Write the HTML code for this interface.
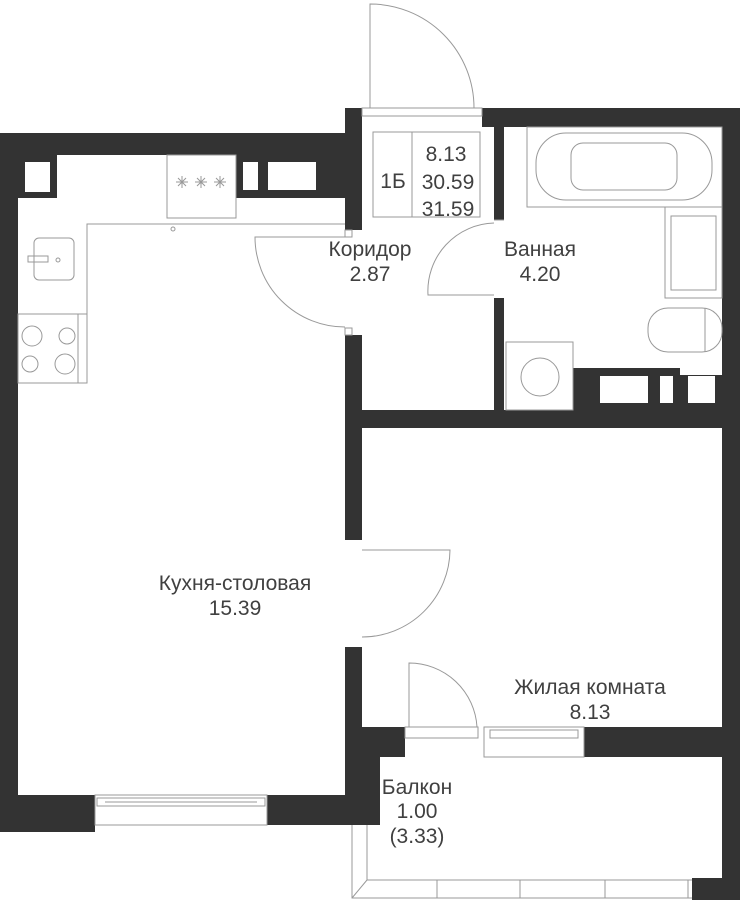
<!DOCTYPE html>
<html><head><meta charset="utf-8"><style>
html,body{margin:0;padding:0;background:#fff;}
svg{display:block}
text{font-family:"Liberation Sans","DejaVu Sans",sans-serif;fill:#404040;font-size:21px;text-anchor:middle}
</style></head><body>
<svg width="740" height="900" viewBox="0 0 740 900" xmlns="http://www.w3.org/2000/svg">
<g fill="#333">
<rect x="0" y="133" width="362" height="22"/>
<rect x="0" y="133" width="18" height="699"/>
<rect x="18" y="155" width="39" height="43"/>
<rect x="236" y="155" width="109" height="43"/>
<rect x="345" y="108" width="17" height="122"/>
<rect x="345" y="335" width="17" height="205"/>
<rect x="345" y="647" width="17" height="176"/>
<rect x="345" y="727" width="60" height="30"/>
<rect x="345" y="757" width="35" height="68"/>
<rect x="0" y="795" width="95" height="37"/>
<rect x="267" y="795" width="113" height="30"/>
<rect x="482" y="108" width="258" height="19"/>
<rect x="722" y="108" width="18" height="772"/>
<rect x="494" y="127" width="10" height="93"/>
<rect x="494" y="298" width="10" height="112"/>
<rect x="573" y="368" width="107" height="42"/>
<rect x="680" y="375" width="42" height="35"/>
<rect x="345" y="410" width="395" height="18"/>
<rect x="584" y="727" width="156" height="30"/>
<rect x="692" y="878" width="48" height="22"/>
</g>
<g fill="#fff">
<rect x="25" y="162" width="25" height="30"/>
<rect x="243" y="162" width="15" height="28"/>
<rect x="268" y="162" width="48" height="28"/>
<rect x="600" y="376" width="48" height="27"/>
<rect x="660" y="376" width="13" height="27"/>
<rect x="688" y="376" width="27" height="27"/>
</g>
<g fill="none" stroke="#999" stroke-width="1">
<rect x="362" y="108" width="120" height="8"/>
<path d="M370 108 V4 A104 104 0 0 1 474 108"/>
<rect x="373" y="132" width="107" height="85"/>
<line x1="412" y1="132" x2="412" y2="217"/>
<path d="M87 383 V224 H345"/>
<rect x="167" y="155" width="69" height="63"/>
<line x1="167" y1="218" x2="236" y2="218"/>
<circle cx="173" cy="229" r="2"/>
<path d="M176 182 h12 M182 176 v12 M178 178 l8 8 M186 178 l-8 8 M195 182 h12 M201 176 v12 M197 178 l8 8 M205 178 l-8 8 M214 182 h12 M220 176 v12 M216 178 l8 8 M224 178 l-8 8"/>
<rect x="34" y="238" width="40" height="42" rx="5"/>
<rect x="18" y="314" width="69" height="69"/>
<line x1="78" y1="314" x2="78" y2="383"/>
<circle cx="32" cy="336" r="10"/><circle cx="67" cy="336" r="8"/>
<circle cx="30" cy="364" r="8"/><circle cx="65" cy="364" r="10"/>
<circle cx="58" cy="260" r="2"/>
<path d="M28 256 h20 v6 h-20z"/>
<path d="M345 237 H255 A90 90 0 0 0 345 327"/>
<rect x="345" y="230" width="7" height="7"/><rect x="345" y="328" width="7" height="7"/>
<path d="M494 220 H504 M494 295 H428 A68 68 0 0 1 494 223"/>
<rect x="527" y="127" width="195" height="80"/>
<rect x="536" y="133" width="176" height="67" rx="30"/>
<rect x="571" y="143" width="106" height="47" rx="12"/>
<rect x="665" y="207" width="57" height="91"/>
<rect x="671" y="216" width="45" height="74"/>
<rect x="648" y="308" width="74" height="44" rx="20"/>
<line x1="705" y1="308" x2="705" y2="352"/>
<rect x="506" y="342" width="67" height="68"/>
<circle cx="540" cy="377" r="19"/>
<path d="M362 550 H450 A88 88 0 0 1 362 637"/>
<rect x="95" y="795" width="172" height="30"/>
<rect x="97" y="798" width="168" height="8"/>
<line x1="105" y1="802" x2="257" y2="802"/>
<rect x="405" y="727" width="73" height="11"/>
<path d="M409 727 V663 A68 68 0 0 1 477 727"/>
<rect x="484" y="727" width="100" height="30"/>
<rect x="490" y="730" width="88" height="8"/>
<path d="M352 825 V898 H692 M367 825 V880 H692 M352 898 L367 880"/>
<path d="M437 880 V898 M520 880 V898 M605 880 V898 M688 880 V898"/>
</g>
<text x="393" y="188" font-size="24">1Б</text>
<text x="446" y="161" font-size="24">8.13</text>
<text x="448" y="189" font-size="24">30.59</text>
<text x="448" y="216" font-size="24">31.59</text>
<text x="370" y="256">Коридор</text>
<text x="370" y="281">2.87</text>
<text x="540" y="256">Ванная</text>
<text x="540" y="281">4.20</text>
<text x="235" y="590">Кухня-столовая</text>
<text x="235" y="615">15.39</text>
<text x="590" y="694">Жилая комната</text>
<text x="590" y="719">8.13</text>
<text x="417" y="794">Балкон</text>
<text x="417" y="818">1.00</text>
<text x="417" y="843">(3.33)</text>
</svg>
</body></html>
